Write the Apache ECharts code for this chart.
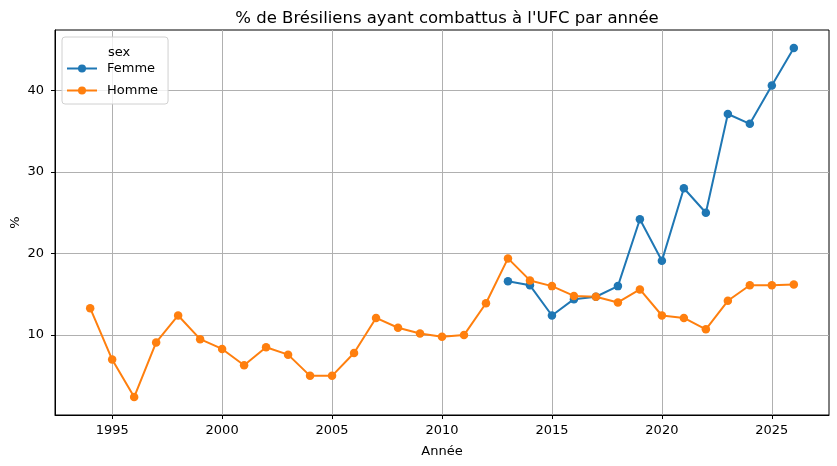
<!DOCTYPE html>
<html>
<head>
    <meta charset="utf-8">
    <title>Brésiliens UFC</title>
    <script src="https://cdn.jsdelivr.net/npm/echarts@6/dist/echarts.min.js"></script>
</head>
<body style="margin:0">
    <div id="main" style="width: 837px;height: 466px;"></div>
    <script type="text/javascript">
// années et valeurs
var hommeYears = [1994, 1995, 1996, 1997, 1998, 1999, 2000, 2001, 2002, 2003, 2004, 2005, 2006, 2007, 2008, 2009, 2010,
    2011, 2012, 2013, 2014, 2015, 2016, 2017, 2018, 2019, 2020, 2021, 2022, 2023, 2024, 2025, 2026];
var hommeValues = [13.3, 7.0, 2.4, 9.1, 12.4, 9.5, 8.3, 6.3, 8.5, 7.6, 5.0, 5.0, 7.8, 12.1, 10.9, 10.2, 9.8,
    10.0, 13.9, 19.4, 16.7, 16.0, 14.8, 14.7, 14.0, 15.6, 12.4, 12.1, 10.7, 14.2, 16.1, 16.1, 16.2];
var femmeYears = [2013, 2014, 2015, 2016, 2017, 2018, 2019, 2020, 2021, 2022, 2023, 2024, 2025, 2026];
var femmeValues = [16.6, 16.1, 12.4, 14.4, 14.7, 16.0, 24.2, 19.1, 28.0, 25.0, 37.1, 35.9, 40.6, 45.2];
var xTicks = [1995, 2000, 2005, 2010, 2015, 2020, 2025];
var yTicks = [10, 20, 30, 40];

function pairs(xs, ys) {
    return xs.map(function (x, i) { return [x, ys[i]]; });
}

var font = 'DejaVu Sans';
var myChart = echarts.init(document.getElementById('main'));

function lineSeries(name, color, data) {
    return {
        name: name,
        type: 'line',
        data: data,
        symbol: 'circle',
        symbolSize: 8.5,
        lineStyle: { width: 2, color: color },
        itemStyle: { color: color },
        emphasis: { disabled: true },
        animation: false
    };
}

myChart.setOption({
    textStyle: { fontFamily: font },
    title: [{
        text: "% de Brésiliens ayant combattus à l'UFC par année",
        left: 442, top: 5, textAlign: 'center',
        textStyle: { fontFamily: font, fontSize: 16.5, fontWeight: 'normal', color: '#000' }
    }, {
        text: 'sex',
        left: 114, top: 41, textAlign: 'center',
        textStyle: { fontFamily: font, fontSize: 13, fontWeight: 'normal', color: '#000' }
    }],
    legend: {
        orient: 'vertical',
        left: 62, top: 37,
        padding: [25, 10, 7, 4],
        itemGap: 9,
        itemWidth: 30,
        itemHeight: 10,
        borderColor: '#d0d0d0',
        borderWidth: 1,
        borderRadius: 3,
        backgroundColor: 'rgba(255,255,255,0.8)',
        textStyle: { fontFamily: font, fontSize: 13, color: '#000', padding: [0, 0, 0, 5] },
        data: ['Femme', 'Homme']
    },
    grid: {
        left: 55, right: 8, top: 30, bottom: 51,
        outerBoundsMode: 'none',
        containLabel: false,
        show: true, borderColor: '#000', borderWidth: 1
    },
    xAxis: {
        type: 'value',
        min: 1992.4, max: 2027.6,
        splitNumber: 7,
        name: 'Année',
        nameLocation: 'middle',
        nameGap: 30,
        nameTextStyle: { fontFamily: font, fontSize: 13, color: '#000' },
        axisLine: { lineStyle: { color: '#000' } },
        axisTick: { length: 4, customValues: xTicks, lineStyle: { color: '#000' } },
        axisLabel: {
            fontFamily: font, fontSize: 13, color: '#000', margin: 9,
            customValues: xTicks,
            formatter: function (v) { return String(v); }
        },
        splitLine: { show: true, lineStyle: { color: '#b0b0b0', width: 1 } }
    },
    yAxis: {
        type: 'value',
        min: 0.2, max: 47.4,
        splitNumber: 5,
        name: '%',
        nameLocation: 'middle',
        nameMoveOverlap: false,
        nameGap: 33,
        nameTextStyle: { fontFamily: font, fontSize: 13, color: '#000' },
        axisLine: { show: true, lineStyle: { color: '#000' } },
        axisTick: { show: true, length: 4, customValues: yTicks, lineStyle: { color: '#000' } },
        axisLabel: {
            fontFamily: font, fontSize: 13, color: '#000', margin: 11,
            customValues: yTicks,
            formatter: function (v) { return String(v); }
        },
        splitLine: { show: true, lineStyle: { color: '#b0b0b0', width: 1 } }
    },
    series: [
        lineSeries('Femme', '#1f77b4', pairs(femmeYears, femmeValues)),
        lineSeries('Homme', '#ff7f0e', pairs(hommeYears, hommeValues))
    ]
});
    </script>
</body>
</html>
